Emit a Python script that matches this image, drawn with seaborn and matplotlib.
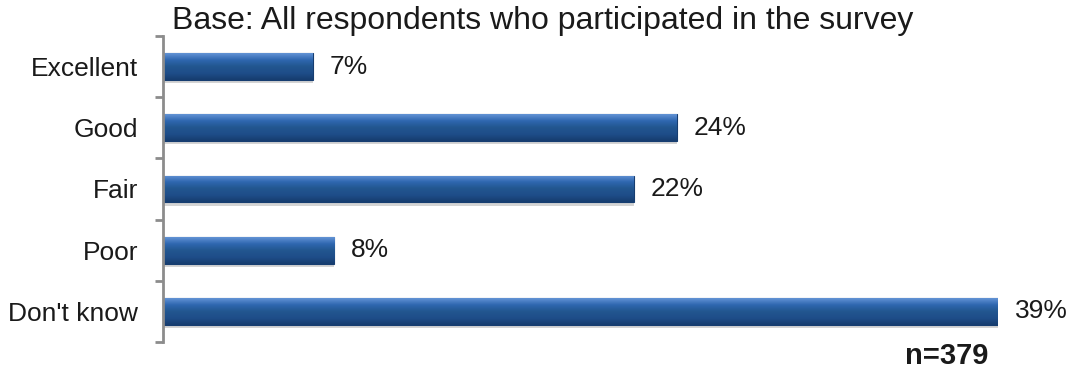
import matplotlib
matplotlib.use("Agg")
import matplotlib.pyplot as plt
import seaborn as sns
import numpy as np
import pandas as pd
from matplotlib.colors import LinearSegmentedColormap

categories = ["Excellent", "Good", "Fair", "Poor", "Don't know"]
values = [7, 24, 22, 8, 39]
value_labels = ["7%", "24%", "22%", "8%", "39%"]
title = "Base: All respondents who participated in the survey"
note = "n=379"

sns.set_theme(style="white")
plt.rcParams['font.family'] = ['Liberation Sans', 'DejaVu Sans']

df = pd.DataFrame({"category": categories, "value": values})

fig = plt.figure(figsize=(10.73, 3.73), dpi=100)
ax = fig.add_axes([0.1519, 0.0831, 0.930 - 0.1519, 0.9035 - 0.0831])

sns.barplot(data=df, x="value", y="category", orient="h", color="#1F4E8F",
            width=0.44, saturation=1, ax=ax, edgecolor="#163d70", linewidth=0.8)

ax.set_xlim(0, 39)
ax.set_ylim(len(categories) - 0.5, -0.5)

# gradient fill clipped to each bar
cmap = LinearSegmentedColormap.from_list(
    "bar", ["#6494D6", "#2F67B0", "#22568F", "#1E4D89", "#163C6E"])
grad = np.linspace(0, 1, 256).reshape(-1, 1)
for p in list(ax.patches):
    x0, y0 = p.get_x(), p.get_y()
    w, h = p.get_width(), p.get_height()
    # shadow
    ax.add_patch(plt.Rectangle((x0, y0 + h), w, 0.05, color="#b8b8b8",
                               alpha=0.6, lw=0, zorder=p.get_zorder() - 0.1))
    im = ax.imshow(grad, cmap=cmap, aspect="auto",
                   extent=(x0, x0 + w, y0 + h, y0), zorder=p.get_zorder() + 0.1,
                   interpolation="bicubic")
    im.set_clip_path(p)
ax.set_xlim(0, 39)
ax.set_ylim(len(categories) - 0.5, -0.5)

for i, (v, lab) in enumerate(zip(values, value_labels)):
    ax.annotate(lab, xy=(v, i), xytext=(12, 0), textcoords="offset points",
                ha="left", va="center", fontsize=19, color="#1a1a1a")

ax.set_xlabel("")
ax.set_ylabel("")
ax.set_xticks([])
ax.set_yticks(range(len(categories)))
ax.set_yticklabels(categories, fontsize=19, color="#1a1a1a")
ax.tick_params(axis="y", which="major", left=True, length=0, pad=18)
# boundary ticks
ax.set_yticks(np.arange(-0.5, len(categories), 1.0), minor=True)
ax.tick_params(axis="y", which="minor", left=True, length=6, width=2,
               color="#8c8c8c", direction="out")

for s in ["top", "right", "bottom"]:
    ax.spines[s].set_visible(False)
ax.spines["left"].set_color("#8c8c8c")
ax.spines["left"].set_linewidth(2)

fig.text(172 / 1073, 1 - 21 / 373, title, fontsize=23, ha="left",
         va="center", color="#1a1a1a")
fig.text(947 / 1073, 1 - 356 / 373, note, fontsize=21, fontweight="bold",
         ha="center", va="center", color="#1a1a1a")

fig.savefig("out.png", dpi=100)
